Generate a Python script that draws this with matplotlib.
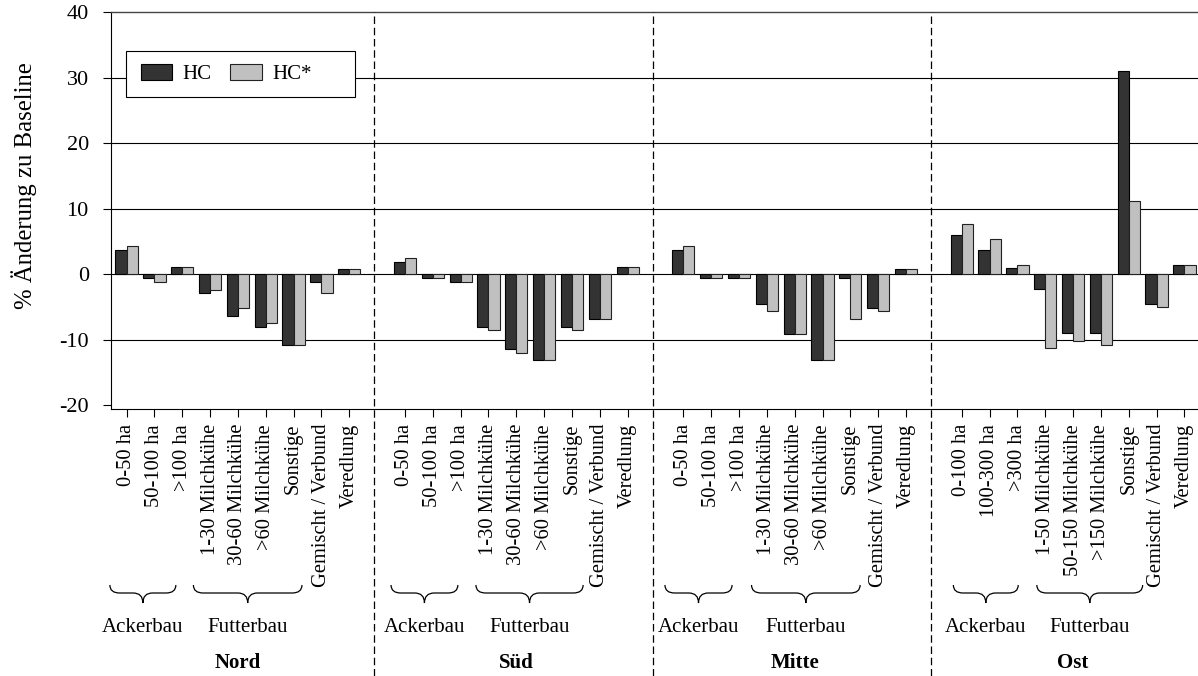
import matplotlib
matplotlib.use("Agg")
import matplotlib.pyplot as plt
from matplotlib.path import Path
from matplotlib.patches import PathPatch, Rectangle, Patch
import matplotlib.transforms as mtransforms
import numpy as np

plt.rcParams['font.family'] = ['Liberation Serif', 'DejaVu Serif']
plt.rcParams['axes.unicode_minus'] = False

# ---------------- data ----------------
regions = ["Nord", "Süd", "Mitte", "Ost"]
labels_west = ["0-50 ha", "50-100 ha", ">100 ha", "1-30 Milchkühe", "30-60 Milchkühe",
               ">60 Milchkühe", "Sonstige", "Gemischt / Verbund", "Veredlung"]
labels_ost = ["0-100 ha", "100-300 ha", ">300 ha", "1-50 Milchkühe", "50-150 Milchkühe",
              ">150 Milchkühe", "Sonstige", "Gemischt / Verbund", "Veredlung"]
group_labels = ["Ackerbau", "Futterbau"]

nord_hc = [3.7, -0.6, 1.0, -2.9, -6.4, -8.1, -10.9, -1.2, 0.8]
nord_hcs = [4.3, -1.2, 1.0, -2.4, -5.2, -7.5, -10.9, -2.9, 0.8]
sued_hc = [1.9, -0.6, -1.2, -8.1, -11.4, -13.2, -8.1, -6.9, 1.0]
sued_hcs = [2.5, -0.6, -1.2, -8.6, -12.0, -13.2, -8.6, -6.9, 1.0]
mitte_hc = [3.7, -0.6, -0.6, -4.6, -9.2, -13.2, -0.6, -5.2, 0.8]
mitte_hcs = [4.3, -0.6, -0.6, -5.7, -9.2, -13.2, -6.9, -5.7, 0.8]
ost_hc = [6.0, 3.7, 0.9, -2.3, -9.0, -9.0, 31.0, -4.5, 1.4]
ost_hcs = [7.7, 5.4, 1.4, -11.3, -10.2, -10.8, 11.1, -5.1, 1.4]

series_names = ["HC", "HC*"]
yticks = [-20, -10, 0, 10, 20, 30, 40]
ytick_labels = ["-20", "-10", "0", "10", "20", "30", "40"]

# ---------------- layout ----------------
W, H = 1198, 676
fig = plt.figure(figsize=(W / 100, H / 100), dpi=100)
ax_l, ax_r, ax_t, ax_b = 111, 1200, 12, 409.3
ax = fig.add_axes([ax_l / W, (H - ax_b) / H, (ax_r - ax_l) / W, (ax_b - ax_t) / H])

hc_all = [nord_hc, sued_hc, mitte_hc, ost_hc]
hcs_all = [nord_hcs, sued_hcs, mitte_hcs, ost_hcs]
labels_all = [labels_west, labels_west, labels_west, labels_ost]

dark = "#333333"
light = "#c0c0c0"
bw = 0.40

xpos, xlabels = [], []
for g in range(4):
    start = g * 10
    x = np.arange(9) + start
    ax.bar(x - bw / 2, hc_all[g], width=bw, color=dark, edgecolor="black", linewidth=0.8, zorder=3)
    ax.bar(x + bw / 2, hcs_all[g], width=bw, color=light, edgecolor="#222222", linewidth=0.8, zorder=3)
    xpos.extend(x)
    xlabels.extend(labels_all[g])

ax.set_xlim(-0.56, 38.56)
ax.set_ylim(-20.65, 40)
ax.set_yticks(yticks)
ax.set_yticklabels(ytick_labels, fontsize=16)
ax.set_xticks(xpos)
ax.set_xticklabels(xlabels, rotation=90, fontsize=14.8, va="top", ha="center")
ax.tick_params(axis="x", direction="out", length=5.5, width=0.8, pad=5)
ax.tick_params(axis="y", direction="out", length=6, width=0.8, pad=10)

for y in [-10, 0, 10, 20, 30]:
    ax.axhline(y, color="black", linewidth=0.8, zorder=1)

ax.spines["right"].set_visible(False)
ax.spines["top"].set_color("#444444")
ax.spines["top"].set_linewidth(1.0)
for s in ["left", "bottom"]:
    ax.spines[s].set_color("black")
    ax.spines[s].set_linewidth(0.8)

fig.text(24 / W, 1 - 186 / H, "% Änderung zu Baseline", rotation=90,
         ha="center", va="center", fontsize=17.8)

# dashed separators
trans = mtransforms.blended_transform_factory(ax.transData, ax.transAxes)
bottom_frac = -(H - ax_b) / (ax_b - ax_t)
for g in range(3):
    xs = g * 10 + 9 - 0.1
    ax.plot([xs, xs], [bottom_frac, 1.0], transform=trans, color="black",
            linewidth=0.9, linestyle=(0, (6, 3)), clip_on=False, zorder=4)


def frac(py):
    return (ax_b - py) / (ax_b - ax_t)


y_top, y_mid, y_tip = frac(585), frac(593), frac(603)


def brace(x0, x1):
    xm = (x0 + x1) / 2
    r = 0.35
    verts = [(x0, y_top), (x0, y_mid), (x0 + r, y_mid), (xm - r, y_mid),
             (xm, y_mid), (xm, y_tip), (xm, y_mid), (xm + r, y_mid),
             (x1 - r, y_mid), (x1, y_mid), (x1, y_top)]
    codes = [Path.MOVETO, Path.CURVE3, Path.CURVE3, Path.LINETO,
             Path.CURVE3, Path.CURVE3, Path.CURVE3, Path.CURVE3,
             Path.LINETO, Path.CURVE3, Path.CURVE3]
    p = PathPatch(Path(verts, codes), fill=False, edgecolor="black", linewidth=0.9,
                  transform=trans, clip_on=False)
    ax.add_patch(p)
    return xm


ack_spans = [(-0.6, 1.77), (-0.5, 1.9), (-0.66, 1.75), (-0.3, 2.03)]
fut_spans = [(2.4, 6.3), (2.55, 6.4), (2.45, 6.35), (2.7, 6.5)]
for g in range(4):
    start = g * 10
    xa = brace(start + ack_spans[g][0], start + ack_spans[g][1])
    xf = brace(start + fut_spans[g][0], start + fut_spans[g][1])
    ax.text(xa, frac(627), group_labels[0], transform=trans, ha="center", va="center", fontsize=15)
    ax.text(xf, frac(627), group_labels[1], transform=trans, ha="center", va="center", fontsize=15)
    ax.text(start + 4, frac(663), regions[g], transform=trans, ha="center", va="center",
            fontsize=15, fontweight="bold")

# legend with manual frame
x_ax = lambda px: (px - ax_l) / (ax_r - ax_l)
ax.add_patch(Rectangle((x_ax(126), frac(97)), x_ax(355) - x_ax(126), frac(51) - frac(97),
                       transform=ax.transAxes, fill=True, facecolor="white",
                       edgecolor="black", linewidth=0.8, zorder=5))
handles = [Patch(facecolor=dark, edgecolor="black", linewidth=0.8),
           Patch(facecolor=light, edgecolor="#222222", linewidth=0.8)]
leg = ax.legend(handles, series_names, loc="center left", bbox_to_anchor=(x_ax(141), frac(74)),
                ncol=2, frameon=False, fontsize=15, borderpad=0, borderaxespad=0,
                handlelength=1.5, handleheight=0.85, handletextpad=0.5, columnspacing=0.9)
leg.set_zorder(6)

fig.savefig("out.png", dpi=100)
